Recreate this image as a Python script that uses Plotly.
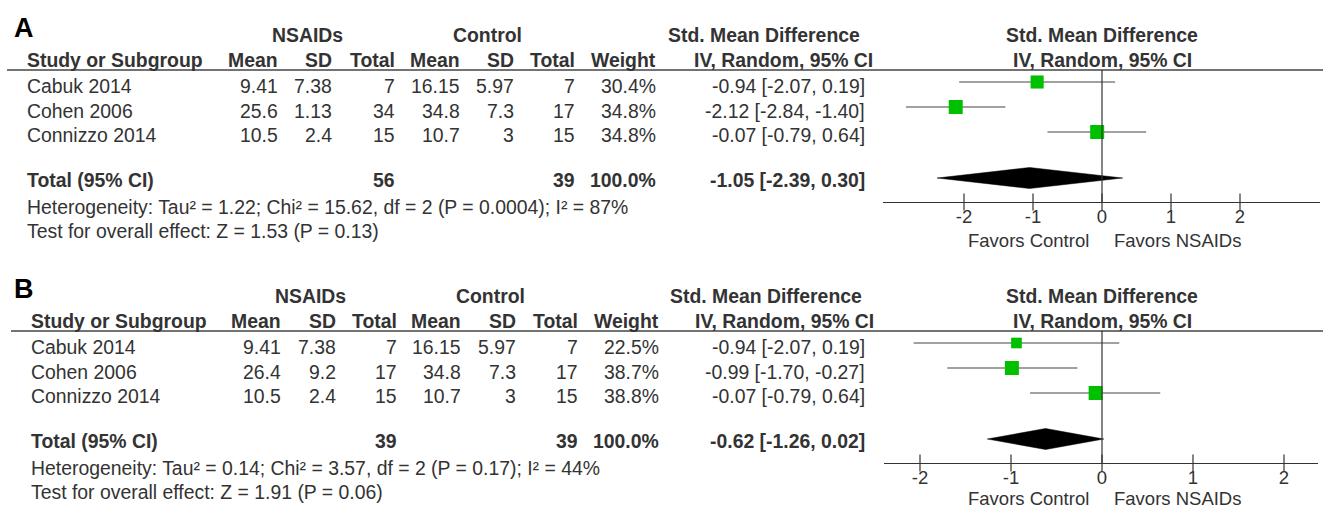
import plotly.graph_objects as go
import math

# ---------------- data ----------------
studies = ["Cabuk 2014", "Cohen 2006", "Connizzo 2014"]

a_nsaid_mean = [9.41, 25.6, 10.5]
a_nsaid_sd = [7.38, 1.13, 2.4]
a_nsaid_n = [7, 34, 15]
a_ctrl_mean = [16.15, 34.8, 10.7]
a_ctrl_sd = [5.97, 7.3, 3]
a_ctrl_n = [7, 17, 15]
a_weight = [30.4, 34.8, 34.8]
a_smd = [-0.94, -2.12, -0.07]
a_lo = [-2.07, -2.84, -0.79]
a_hi = [0.19, -1.40, 0.64]
a_total = {"n1": 56, "n2": 39, "w": 100.0, "est": -1.05, "lo": -2.39, "hi": 0.30}
a_het = "Heterogeneity: Tau² = 1.22; Chi² = 15.62, df = 2 (P = 0.0004); I² = 87%"
a_test = "Test for overall effect: Z = 1.53 (P = 0.13)"

b_nsaid_mean = [9.41, 26.4, 10.5]
b_nsaid_sd = [7.38, 9.2, 2.4]
b_nsaid_n = [7, 17, 15]
b_ctrl_mean = [16.15, 34.8, 10.7]
b_ctrl_sd = [5.97, 7.3, 3]
b_ctrl_n = [7, 17, 15]
b_weight = [22.5, 38.7, 38.8]
b_smd = [-0.94, -0.99, -0.07]
b_lo = [-2.07, -1.70, -0.79]
b_hi = [0.19, -0.27, 0.64]
b_total = {"n1": 39, "n2": 39, "w": 100.0, "est": -0.62, "lo": -1.26, "hi": 0.02}
b_het = "Heterogeneity: Tau² = 0.14; Chi² = 3.57, df = 2 (P = 0.17); I² = 44%"
b_test = "Test for overall effect: Z = 1.91 (P = 0.06)"

tick_vals = [-2, -1, 0, 1, 2]
col_headers = ["Mean", "SD", "Total", "Mean", "SD", "Total", "Weight"]

# ---------------- layout constants ----------------
W, H = 1324, 508
FONT = "Liberation Sans, Arial, sans-serif"
TXT = "#333333"
FS = 19.4
FS_AX = 18.5


def px(x):
    return x / W


def py(y):
    return 1 - y / H


fig = go.Figure()
annotations = []
shapes = []


def txt(x, y, s, anchor="left", bold=False, size=FS, color=TXT):
    if bold:
        s = "<b>" + s + "</b>"
    annotations.append(dict(x=px(x), y=py(y), xref="paper", yref="paper", text=s,
                            showarrow=False, xanchor=anchor, yanchor="middle",
                            font=dict(family=FONT, size=size, color=color)))


def panel(idx, label, dy, nm, nsd, nn, cm, csd, cn, wt, smd, lo, hi, tot, het, test,
          study_x, col_r, ci_r, ci_head_r, grp_c, x_dom, x_rng, fav_y):
    # labels
    txt(12, 28 + dy, label, bold=True, size=27, color="#000000")
    txt(grp_c[0], 35 + dy, "NSAIDs", "center", True)
    txt(grp_c[1], 35 + dy, "Control", "center", True)
    txt(grp_c[2], 35 + dy, "Std. Mean Difference", "center", True)
    txt(1102, 35 + dy, "Std. Mean Difference", "center", True)
    txt(study_x, 60 + dy, "Study or Subgroup", "left", True)
    for h, xr in zip(col_headers, col_r):
        txt(xr, 60 + dy, h, "right", True)
    txt(ci_head_r, 60 + dy, "IV, Random, 95% CI", "right", True)
    txt(1102, 60 + dy, "IV, Random, 95% CI", "center", True)
    shapes.append(dict(type="line", xref="paper", yref="paper", x0=px(study_x - 18), x1=px(1323),
                       y0=py(70 + dy), y1=py(70 + dy), line=dict(color="#444444", width=1.3)))
    rows_y = [86, 110.5, 135]
    for i, s in enumerate(studies):
        y = rows_y[i] + dy
        txt(study_x, y, s)
        vals = [f"{nm[i]:g}", f"{nsd[i]:g}", f"{nn[i]}", f"{cm[i]:g}", f"{csd[i]:g}", f"{cn[i]}",
                f"{wt[i]:.1f}%"]
        for v, xr in zip(vals, col_r):
            txt(xr, y, v, "right")
        txt(ci_r, y, f"{smd[i]:.2f} [{lo[i]:.2f}, {hi[i]:.2f}]", "right")
    ty = 180 + dy
    txt(study_x, ty, "Total (95% CI)", bold=True)
    txt(col_r[2], ty, f"{tot['n1']}", "right", True)
    txt(col_r[5], ty, f"{tot['n2']}", "right", True)
    txt(col_r[6], ty, f"{tot['w']:.1f}%", "right", True)
    txt(ci_r, ty, f"{tot['est']:.2f} [{tot['lo']:.2f}, {tot['hi']:.2f}]", "right", True)
    txt(study_x, 207 + dy, het)
    txt(study_x, 231 + dy, test)
    txt(1028, fav_y, "Favors Control", "center", size=FS_AX)
    txt(1177, fav_y, "Favors NSAIDs", "center", size=FS_AX)

    # forest plot axes
    first_px, step_px, top_px, bot_px = 82 + dy, 25, 70 + dy, 202 + dy
    rows = [0, 1, 2]
    total_row = 3.84
    y_rng = [(bot_px - first_px) / step_px, (top_px - first_px) / step_px]
    xa = "x" if idx == 1 else f"x{idx}"
    ya = "y" if idx == 1 else f"y{idx}"
    # CI lines
    lx, ly = [], []
    for r, l, h in zip(rows, lo, hi):
        lx += [l, h, None]
        ly += [r, r, None]
    fig.add_trace(go.Scatter(x=lx, y=ly, mode="lines", line=dict(color="#444444", width=1.2),
                             xaxis=xa, yaxis=ya, hoverinfo="skip", showlegend=False))
    mw = max(wt)
    fig.add_trace(go.Scatter(x=smd, y=rows, mode="markers",
                             marker=dict(symbol="square", color="#00C000", opacity=1,
                                         size=[14 * math.sqrt(w / mw) for w in wt],
                                         line=dict(width=0)),
                             xaxis=xa, yaxis=ya, showlegend=False))
    hh = 0.42
    fig.add_trace(go.Scatter(x=[tot["lo"], tot["est"], tot["hi"], tot["est"], tot["lo"]],
                             y=[total_row, total_row - hh, total_row, total_row + hh, total_row],
                             mode="lines", fill="toself", fillcolor="#000000",
                             line=dict(color="#000000", width=0.5),
                             xaxis=xa, yaxis=ya, showlegend=False, hoverinfo="skip"))
    # tick marks crossing the axis line
    fig.add_trace(go.Scatter(x=tick_vals, y=[y_rng[0]] * len(tick_vals), mode="markers",
                             marker=dict(symbol="line-ns-open", size=12, color="#333333",
                                         line=dict(color="#333333", width=1.2)),
                             cliponaxis=False, xaxis=xa, yaxis=ya, showlegend=False,
                             hoverinfo="skip"))
    shapes.append(dict(type="line", xref=xa, yref=f"{ya} domain", x0=0, x1=0, y0=0, y1=1,
                       line=dict(color="#333333", width=1.2)))
    axis_key = "xaxis" if idx == 1 else f"xaxis{idx}"
    yaxis_key = "yaxis" if idx == 1 else f"yaxis{idx}"
    fig.layout[axis_key] = dict(domain=[px(x_dom[0]), px(x_dom[1])], range=x_rng,
                                anchor=ya, showgrid=False, zeroline=False,
                                showline=True, linecolor="#333333", linewidth=1.2,
                                tickvals=tick_vals, ticktext=[str(t) for t in tick_vals],
                                ticks="", ticklen=0, ticklabelstandoff=-2,
                                tickfont=dict(family=FONT, size=FS_AX, color=TXT), fixedrange=True)
    fig.layout[yaxis_key] = dict(domain=[py(bot_px), py(top_px)], range=y_rng, anchor=xa,
                                 visible=False, showgrid=False, zeroline=False, fixedrange=True)


panel(1, "A", 0, a_nsaid_mean, a_nsaid_sd, a_nsaid_n, a_ctrl_mean, a_ctrl_sd, a_ctrl_n,
      a_weight, a_smd, a_lo, a_hi, a_total, a_het, a_test,
      study_x=25, col_r=[280, 334, 397, 462, 516, 577, 658], ci_r=867, ci_head_r=875,
      grp_c=[307, 487, 764], x_dom=[883, 1320],
      x_rng=[(883 - 1102) / 69, (1320 - 1102) / 69], fav_y=240)

panel(2, "B", 261, b_nsaid_mean, b_nsaid_sd, b_nsaid_n, b_ctrl_mean, b_ctrl_sd, b_ctrl_n,
      b_weight, b_smd, b_lo, b_hi, b_total, b_het, b_test,
      study_x=29, col_r=[283, 338, 399, 463, 518, 580, 661], ci_r=867, ci_head_r=876,
      grp_c=[310, 490, 766], x_dom=[884, 1318],
      x_rng=[(884 - 1102) / 91, (1318 - 1102) / 91], fav_y=498)

fig.update_layout(width=W, height=H, autosize=False, margin=dict(l=0, r=0, t=0, b=0),
                  paper_bgcolor="white", plot_bgcolor="white",
                  annotations=annotations, shapes=shapes, showlegend=False,
                  font=dict(family=FONT, color=TXT))

fig.write_html("out.html", config={"displayModeBar": False},
               post_script="document.body.style.margin='0';document.body.style.overflow='hidden';")
